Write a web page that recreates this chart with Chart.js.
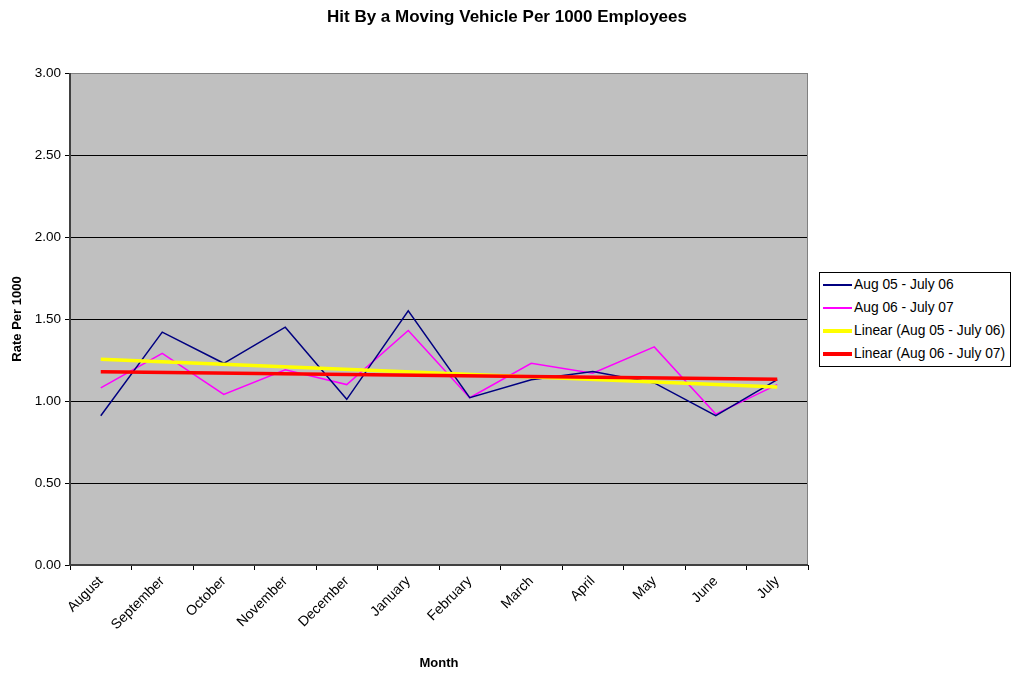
<!DOCTYPE html>
<html>
<head>
<meta charset="utf-8">
<script src="https://cdn.jsdelivr.net/npm/chart.js@4/dist/chart.umd.min.js"></script>
<style>
	body { margin: 0; background: #fff; font-family: "Liberation Sans", Arial, sans-serif; }
	#wrap { position: relative; width: 1014px; height: 675px; }
	#title { position: absolute; left: 0; top: 7px; width: 1014px; text-align: center; font-size: 17px; font-weight: bold; color: #000; }
	#legend { position: absolute; left: 819px; top: 272px; width: 190px; height: 93px; border: 1px solid #000; background: #fff; font-size: 13.8px; color: #000; }
	#legend div { height: 23px; line-height: 23px; white-space: nowrap; padding-left: 3px; }
	#legend span { display: inline-block; width: 29px; vertical-align: middle; margin-right: 2px; }
</style>
</head>
<body>
<div id="wrap">
	<canvas id="rateChart" width="1014" height="675"></canvas>
	<div id="title">Hit By a Moving Vehicle Per 1000 Employees</div>
	<div id="legend"></div>
</div>
<script>
let months		= ['August', 'September', 'October', 'November', 'December', 'January', 'February', 'March', 'April', 'May', 'June', 'July'];
let rates0506	= [0.91, 1.42, 1.23, 1.45, 1.01, 1.55, 1.02, 1.13, 1.18, 1.11, 0.91, 1.13];
let rates0607	= [1.08, 1.29, 1.04, 1.19, 1.10, 1.43, 1.02, 1.23, 1.17, 1.33, 0.92, 1.10];
// trend lines, end values
let trend0506	= [1.255, null, null, null, null, null, null, null, null, null, null, 1.086];
let trend0607	= [1.179, null, null, null, null, null, null, null, null, null, null, 1.133];
let yTicks		= [0, 0.5, 1, 1.5, 2, 2.5, 3];

let plotBack = {
	id: 'plotBack',
	beforeDraw(chart) {
		let a = chart.chartArea, ctx = chart.ctx;
		ctx.save();
		ctx.fillStyle = '#c0c0c0';
		ctx.fillRect(a.left, a.top, a.right - a.left, a.bottom - a.top);
		ctx.restore();
	},
	afterDatasetsDraw(chart) {
		let a = chart.chartArea, ctx = chart.ctx;
		ctx.save();
		ctx.strokeStyle = '#808080';
		ctx.lineWidth = 1;
		ctx.strokeRect(a.left + 0.5, a.top + 0.5, a.right - a.left - 1, a.bottom - a.top);
		ctx.strokeStyle = '#404040';
		ctx.lineWidth = 2;
		ctx.beginPath();
		ctx.moveTo(a.left, a.top);
		ctx.lineTo(a.left, a.bottom);
		ctx.lineTo(a.right, a.bottom);
		ctx.stroke();
		ctx.restore();
	}
};

let datasets = [
	{ label: 'Aug 05 - July 06', data: rates0506, borderColor: '#000080', borderWidth: 1.5, order: 2 },
	{ label: 'Aug 06 - July 07', data: rates0607, borderColor: '#ff00ff', borderWidth: 1.5, order: 2 },
	{ label: 'Linear (Aug 05 - July 06)', data: trend0506, borderColor: '#ffff00', borderWidth: 3.5, spanGaps: true, order: 1 },
	{ label: 'Linear (Aug 06 - July 07)', data: trend0607, borderColor: '#ff0000', borderWidth: 3.5, spanGaps: true, order: 0 }
];

new Chart(document.getElementById('rateChart').getContext('2d'), {
	type: 'line',
	data: { labels: months, datasets: datasets },
	options: {
		responsive: false,
		animation: false,
		layout: { padding: { left: 0, right: 206, top: 73, bottom: 0 } },
		elements: { point: { radius: 0 }, line: { tension: 0 } },
		plugins: {
			legend: { display: false },
			tooltip: { enabled: false },
			title: { display: false }
		},
		scales: {
			x: {
				offset: true,
				grid: { offset: true, drawOnChartArea: false, drawTicks: true, tickLength: 5, color: '#000' },
				border: { display: false },
				ticks: { color: '#000', font: { family: 'Liberation Sans', size: 14 }, maxRotation: 45, minRotation: 45, autoSkip: false, padding: 3 },
				title: { display: true, text: 'Month', color: '#000', font: { family: 'Liberation Sans', size: 13, weight: 'bold' }, padding: { top: 0, bottom: 4 } },
				afterFit(scale) { scale.height = 110; }
			},
			y: {
				min: 0,
				max: 3,
				afterBuildTicks(scale) { scale.ticks = yTicks.map(v => ({ value: v })); },
				grid: { color: '#000', lineWidth: 1, tickLength: 5, drawTicks: true },
				border: { display: false },
				ticks: { color: '#000', font: { family: 'Liberation Sans', size: 13.5 }, padding: 4, callback: v => v.toFixed(2) },
				title: { display: true, text: 'Rate Per 1000', color: '#000', font: { family: 'Liberation Sans', size: 13, weight: 'bold' }, padding: { top: 10, bottom: 0 } },
				afterFit(scale) { scale.width = 70; }
			}
		}
	},
	plugins: [plotBack]
});

let legend = document.getElementById('legend');
datasets.forEach(d => {
	let row = document.createElement('div');
	let swatch = document.createElement('span');
	swatch.style.borderTop = Math.round(d.borderWidth) + 'px solid ' + d.borderColor;
	row.appendChild(swatch);
	row.appendChild(document.createTextNode(d.label));
	legend.appendChild(row);
});
</script>
</body>
</html>
